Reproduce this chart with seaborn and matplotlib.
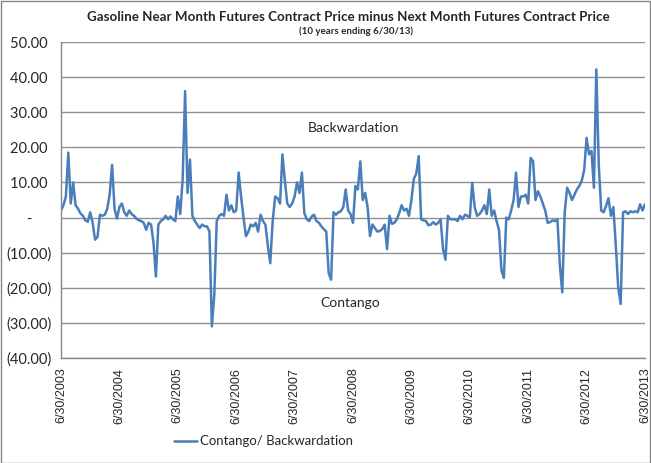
import numpy as np
import pandas as pd
import seaborn as sns
import matplotlib.pyplot as plt
from matplotlib.ticker import FuncFormatter
from matplotlib.patches import Rectangle

# Spread values, about two per month (Jul..Jun of each year)
y2003 = [2.0, 3.5, 6.0, 18.5, 4.0, 10.0, 3.5, 2.5, 1.2, 0.5, -0.8, -1.2,
         1.5, -1.5, -6.3, -5.5, 0.8, 0.5, 0.8, 2.5, 6.5, 15.0, 2.5, -0.3]
y2004 = [3.0, 4.0, 1.5, 0.5, 2.0, 1.0, 0.5, -0.3, -0.8, -1.0, -1.5, -3.5,
         -1.5, -2.0, -7.0, -16.8, -2.0, -1.0, -0.5, 0.5, -0.5, 0.3, -0.5, -1.0]
y2005 = [6.0, 1.0, 11.0, 36.0, 7.0, 16.5, 0.5, -1.0, -2.0, -3.0, -2.0, -2.5,
         -2.5, -4.0, -31.0, -22.0, -1.0, 0.5, 1.0, 0.5, 6.5, 2.0, 3.5, 1.5]
y2006 = [2.0, 12.8, 6.0, 0.0, -5.3, -4.0, -2.0, -2.5, -1.5, -4.0, 0.8, -1.0,
         -2.0, -8.0, -13.0, -1.0, 6.0, 5.5, 4.0, 18.0, 10.5, 4.0, 3.0, 4.0]
y2007 = [6.0, 10.0, 7.0, 12.8, 1.3, -0.5, -1.0, 0.3, 0.8, -1.0, -1.5, -2.5,
         -3.3, -4.0, -15.8, -17.7, 1.5, 0.8, 1.5, 1.8, 3.0, 8.0, 2.0, 1.0]
y2008 = [-1.5, 9.0, 8.0, 16.0, 5.0, 7.0, 3.0, -5.3, -2.0, -3.0, -4.0, -3.8,
         -3.3, -2.0, -9.0, 0.5, -1.8, -1.5, -0.5, 1.3, 3.5, 2.0, 2.5, 0.5]
y2009 = [5.0, 11.0, 12.5, 17.5, -0.5, -0.8, -1.0, -2.2, -2.0, -1.3, -2.0, -1.5,
         -0.5, -9.0, -12.0, 0.5, -0.5, -0.5, -0.5, -1.0, 0.5, -0.5, 0.8, 0.5]
y2010 = [0.0, 9.9, 3.0, 0.5, 1.0, 2.0, 3.5, 1.0, 8.0, 0.5, 2.0, -1.0,
         -3.5, -15.0, -17.2, 0.0, -0.5, 2.0, 5.0, 12.8, 3.0, 6.0, 6.0, 6.5]
y2011 = [4.0, 17.0, 16.0, 5.0, 7.5, 6.0, 4.0, 2.0, -1.5, -1.3, -0.8, -1.0,
         -0.5, -13.5, -21.3, 1.5, 8.5, 7.0, 5.0, 6.5, 8.0, 9.0, 10.5, 13.5]
y2012 = [22.7, 18.0, 19.0, 8.5, 42.2, 15.0, 2.0, 1.5, 3.3, 5.5, 0.5, 3.0,
         -8.0, -20.0, -24.6, 1.5, 1.8, 1.0, 1.8, 1.5, 1.8, 1.5, 3.8, 2.0]
last = [3.8]

spread = y2003 + y2004 + y2005 + y2006 + y2007 + y2008 + y2009 + y2010 + y2011 + y2012 + last
dates = pd.date_range('2003-06-30', '2013-06-30', periods=len(spread))
df = pd.DataFrame({'date': dates, 'spread': spread})

tick_years = list(range(2003, 2014))
tick_labels = [f'6/30/{y}' for y in tick_years]

sns.set_style('white')
plt.rcParams['font.family'] = ['Lato', 'DejaVu Sans']

fig = plt.figure(figsize=(6.51, 4.63), dpi=100)
ax = fig.add_axes([61 / 651, 1 - 358 / 463, 584 / 651, 316 / 463])

sns.lineplot(data=df, x='date', y='spread', ax=ax, color='#4A7EBB', lw=1.8,
             label='Contango/ Backwardation')

ax.set_ylim(-40, 50)
ax.set_yticks(range(-40, 51, 10))


def fmt(v, pos):
    if v > 0:
        return f'{v:.2f} '
    if v < 0:
        return f'({-v:.2f})'
    return '-     '


ax.yaxis.set_major_formatter(FuncFormatter(fmt))
ax.tick_params(axis='y', labelsize=10.5, length=4, color='#868686', pad=3)
ax.grid(axis='y', color='#909090', lw=1)
ax.set_axisbelow(True)

ax.set_xlim(pd.Timestamp('2003-06-30'), pd.Timestamp('2013-06-30'))
ax.set_xticks(pd.to_datetime([f'{y}-06-30' for y in tick_years]))
ax.set_xticklabels(tick_labels, rotation=90, fontfamily='Liberation Sans', fontsize=9)
ax.tick_params(axis='x', length=4, color='#868686', pad=3)
ax.set_xlabel('')
ax.set_ylabel('')

for side in ['top', 'right']:
    ax.spines[side].set_visible(False)
for side in ['left', 'bottom']:
    ax.spines[side].set_color('#868686')
    ax.spines[side].set_linewidth(1)

ax.text(pd.Timestamp('2008-07-01'), 25.4, 'Backwardation', ha='center', va='center', fontsize=10)
ax.text(pd.Timestamp('2008-06-15'), -24.2, 'Contango', ha='center', va='center', fontsize=10)

fig.text(0.535, 0.963, 'Gasoline Near Month Futures Contract Price minus Next Month Futures Contract Price',
         ha='center', va='center', fontsize=9.6, fontweight='bold')
fig.text(0.547, 0.933, '(10 years ending 6/30/13)', ha='center', va='center', fontsize=7, fontweight='bold')

ax.legend(loc='center', bbox_to_anchor=(0.405, 0.047), bbox_transform=fig.transFigure,
          frameon=False, handlelength=1.75, handletextpad=0.2, fontsize=9.5)

fig.patches.append(Rectangle((0.001, 0.001), 0.997, 0.997, transform=fig.transFigure,
                             fill=False, edgecolor='#868686', lw=1))

fig.savefig('out.png', dpi=100)
